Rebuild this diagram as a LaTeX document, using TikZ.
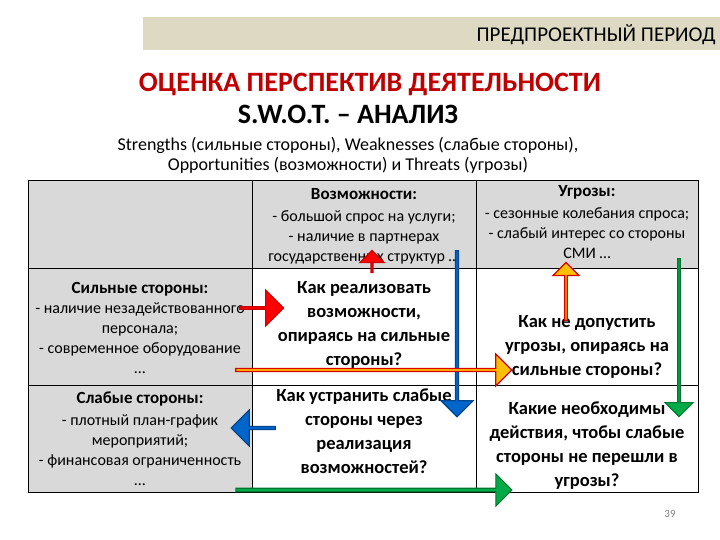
\documentclass[tikz,border=0pt]{standalone}
\usepackage{fontspec}
\setmainfont{Carlito}
\usetikzlibrary{shapes.arrows}
\definecolor{cellg}{RGB}{217,217,217}
\definecolor{band}{RGB}{221,217,195}
\definecolor{ttl}{RGB}{192,0,0}
\definecolor{arr}{RGB}{255,0,0}
\definecolor{orng}{RGB}{255,192,0}
\definecolor{blu}{RGB}{0,102,204}
\definecolor{grn}{RGB}{0,170,70}
\newcommand\myhdf{\fontsize{17}{22}\selectfont\bfseries}
\tikzset{
 cell/.style={draw=black,line width=0.6pt,anchor=north west,inner sep=0pt},
 gcell/.style={cell,fill=cellg},
 wcell/.style={cell,fill=white},
 txt/.style={align=center,font=\fontsize{16}{20}\selectfont},
 btxt/.style={align=center,font=\fontsize{18.5}{24}\selectfont\bfseries},
 barrow/.style n args={3}{single arrow,minimum height=#1,minimum width=#2,single arrow head extend=#3,inner sep=0pt,line width=1.2pt},
}
\begin{document}
\begin{tikzpicture}[x=1pt,y=-1pt]
\useasboundingbox (0,0) rectangle (720,540);
\node[fill=band,minimum width=577,minimum height=33,anchor=north west,inner sep=0] (band) at (143,17) {};
\node[anchor=east,font=\fontsize{21}{24}\selectfont] (per) at (719,35) {ПРЕДПРОЕКТНЫЙ ПЕРИОД};
\node[text=ttl,font=\fontsize{28}{32}\selectfont\bfseries] (t1) at (370,84) {ОЦЕНКА ПЕРСПЕКТИВ ДЕЯТЕЛЬНОСТИ};
\node[font=\fontsize{28}{32}\selectfont\bfseries] (t2) at (348,114) {S.W.O.T. – АНАЛИЗ};
\node[font=\fontsize{18}{22}\selectfont] (s1) at (348,145) {Strengths (сильные стороны), Weaknesses (слабые стороны),};
\node[font=\fontsize{18}{22}\selectfont] (s2) at (348,165) {Opportunities (возможности) и Threats (угрозы)};
% grid
\node[gcell,minimum width=224,minimum height=88] (c00) at (28,180) {};
\node[gcell,minimum width=224,minimum height=88] (c01) at (252,180) {};
\node[gcell,minimum width=222,minimum height=88] (c02) at (476,180) {};
\node[gcell,minimum width=224,minimum height=117] (c10) at (28,268) {};
\node[wcell,minimum width=224,minimum height=117] (c11) at (252,268) {};
\node[wcell,minimum width=222,minimum height=117] (c12) at (476,268) {};
\node[gcell,minimum width=224,minimum height=107] (c20) at (28,385) {};
\node[wcell,minimum width=224,minimum height=107] (c21) at (252,385) {};
\node[wcell,minimum width=222,minimum height=107] (c22) at (476,385) {};
% texts
\node[txt] (o) at (364,226) {{\myhdf Возможности:}\\[2pt]- большой спрос на услуги;\\- наличие в партнерах\\государственных структур …};
\node[txt] (th) at (587,222) {{\myhdf Угрозы:}\\[2pt]- сезонные колебания спроса;\\- слабый интерес со стороны\\СМИ …};
\node[txt] (st) at (140,328) {{\myhdf Сильные стороны:}\\- наличие незадействованного\\персонала;\\- современное оборудование\\…};
\node[txt] (wk) at (140,439) {{\myhdf Слабые стороны:}\\[2pt]- плотный план-график\\мероприятий;\\- финансовая ограниченность\\…};
\node[btxt] (q1) at (364,325) {Как реализовать\\возможности,\\опираясь на сильные\\стороны?};
\node[btxt] (q2) at (587,347) {Как не допустить\\угрозы, опираясь на\\сильные стороны?};
\node[btxt] (q3) at (364,431) {Как устранить слабые\\стороны через\\реализация\\возможностей?};
\node[btxt] (q4) at (587,446) {Какие необходимы\\действия, чтобы слабые\\стороны не перешли в\\угрозы?};
% arrows
\node[barrow={44}{36}{8pt},fill=arr,draw=red!80!black] (a1) at (261,308) {};
\node[barrow={22}{24}{7pt},fill=arr,draw=red!80!black,shape border rotate=90] (a2) at (372,262) {};
\node[barrow={166}{32}{6pt},fill=blu,draw=blu!70!black,shape border rotate=270] (a3) at (457,333) {};
\node[barrow={276}{32}{6pt},fill=orng,draw=red!85!black] (a4) at (373,370) {};
\node[barrow={58}{26}{6pt},fill=orng,draw=red!85!black,shape border rotate=90] (a5) at (566,292) {};
\node[barrow={158}{28}{6pt},fill=grn,draw=grn!70!black,shape border rotate=270] (a6) at (679,337) {};
\node[barrow={44}{36}{7pt},fill=blu,draw=blu!70!black,shape border rotate=180] (a7) at (254,428) {};
\node[barrow={276}{32}{5pt},fill=grn,draw=grn!70!black] (a8) at (373,490) {};
\node[text=gray,font=\fontsize{11}{12}\selectfont] (pg) at (670,514) {39};
\end{tikzpicture}
\end{document}
